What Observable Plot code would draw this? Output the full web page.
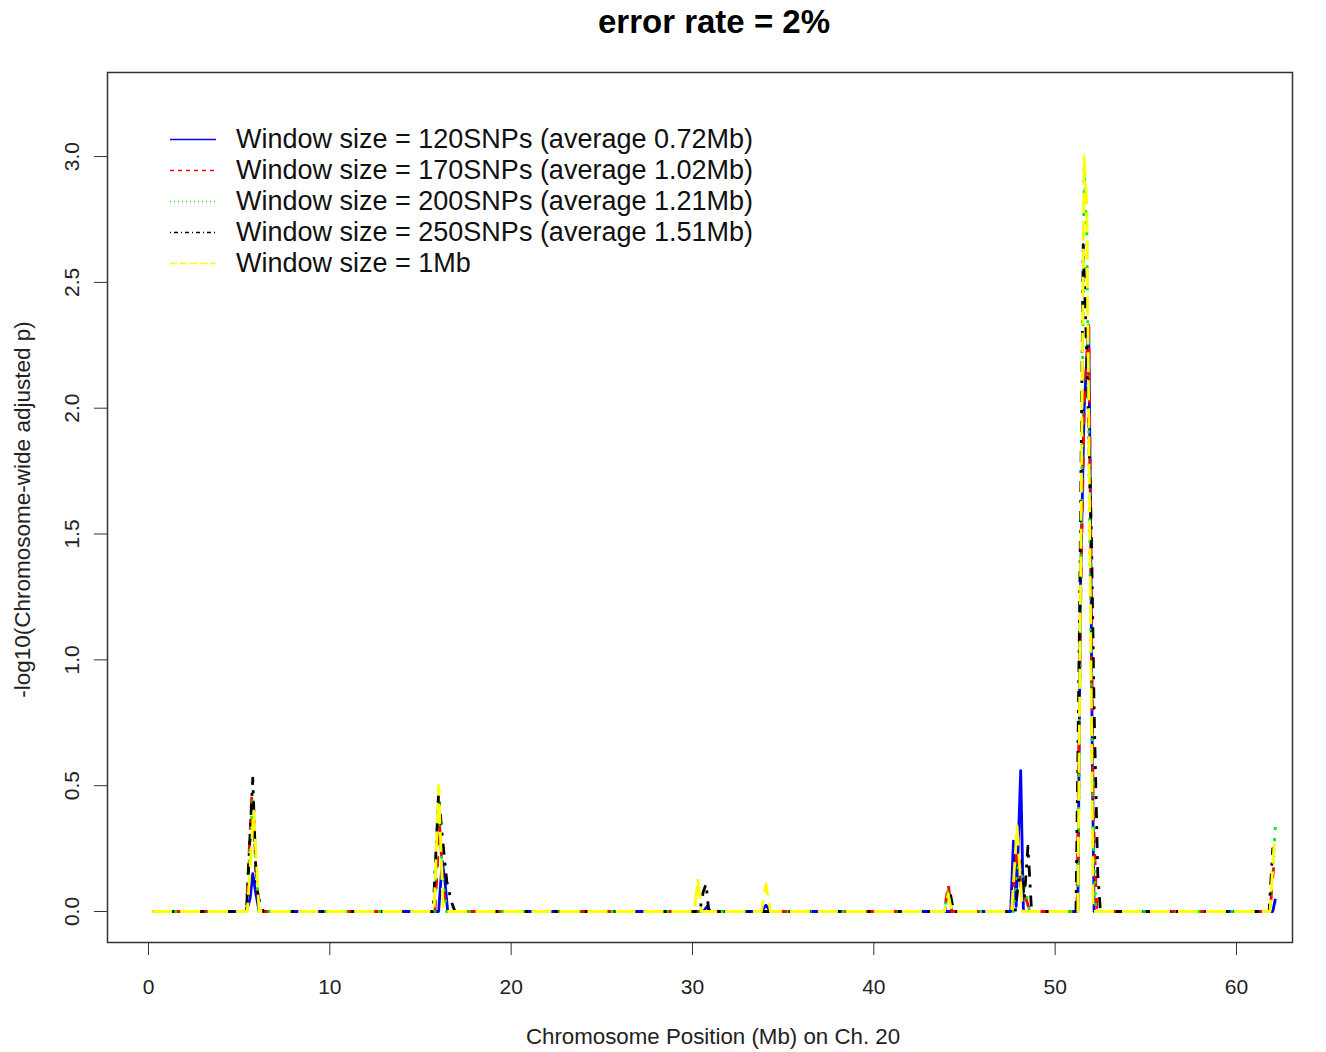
<!DOCTYPE html>
<html><head><meta charset="utf-8">
<script src="https://cdn.jsdelivr.net/npm/d3@7"></script>
<script src="https://cdn.jsdelivr.net/npm/@observablehq/plot@0.6"></script>
<style>
body{margin:0;background:#fff;font-family:"Liberation Sans",Arial,sans-serif;}
#wrap{position:relative;width:1326px;height:1052px;}
#title{height:48px;}
#titleText{position:absolute;left:714px;top:22px;transform:translate(-50%,-50%);font-weight:bold;font-size:33px;color:#000;white-space:nowrap;}
#legend{position:absolute;left:166px;top:124px;}
.row{display:flex;align-items:center;height:31px;}
.row svg{width:52px;height:31px;margin-right:18px;}
.row span{font-size:27px;color:#111;white-space:nowrap;}
</style></head>
<body><div id="wrap"><div id="title"></div><div id="titleText">error rate = 2%</div><div id="chart"></div><div id="legend"></div></div>
<script>
const seriesNames = [
  "Window size = 120SNPs (average 0.72Mb)",
  "Window size = 170SNPs (average 1.02Mb)",
  "Window size = 200SNPs (average 1.21Mb)",
  "Window size = 250SNPs (average 1.51Mb)",
  "Window size = 1Mb"
];
const xTicks = [0, 10, 20, 30, 40, 50, 60];
const yTicks = [0, 0.5, 1.0, 1.5, 2.0, 2.5, 3.0];

const blueX = [0.2, 5.4, 5.6, 5.75, 5.9, 6.1, 16.0, 16.2, 16.35, 16.5, 30.6, 30.8, 31.0, 33.8, 34.05, 34.3, 47.55, 47.7, 47.85, 48.1, 48.25, 51.25, 51.4, 51.6, 51.85, 51.95, 52.05, 52.15, 62.0, 62.15];
const blueY = [0, 0, 0.05, 0.15, 0.08, 0, 0, 0.2, 0.12, 0, 0, 0.02, 0, 0, 0.025, 0, 0, 0.28, 0.02, 0.56, 0, 0, 1.3, 2.0, 2.33, 1.6, 0.6, 0, 0, 0.05];
const redX = [0.2, 5.4, 5.7, 5.85, 6.0, 6.2, 15.8, 16.05, 16.25, 16.45, 43.9, 44.1, 44.3, 47.6, 47.9, 48.1, 48.4, 48.6, 51.2, 51.4, 51.6, 51.85, 51.95, 52.1, 52.3, 61.85, 62.1];
const redY = [0, 0, 0.47, 0.3, 0.08, 0, 0, 0.35, 0.1, 0, 0, 0.11, 0, 0, 0.25, 0.1, 0.05, 0, 0, 1.2, 2.0, 2.35, 1.6, 0.4, 0, 0, 0.22];
const greenX = [0.2, 5.4, 5.75, 5.9, 6.1, 15.8, 16.0, 16.2, 16.45, 43.9, 44.1, 44.3, 47.7, 48.0, 48.3, 48.6, 51.25, 51.45, 51.6, 51.75, 51.95, 52.1, 52.25, 61.85, 62.15];
const greenY = [0, 0, 0.45, 0.2, 0, 0, 0.5, 0.15, 0, 0, 0.09, 0, 0, 0.2, 0.1, 0, 0, 1.5, 2.95, 2.7, 1.2, 0.3, 0, 0, 0.34];
const blackX = [0.2, 5.4, 5.75, 5.95, 6.15, 6.35, 15.7, 16.0, 16.2, 16.45, 16.7, 16.9, 30.4, 30.6, 30.75, 30.9, 43.9, 44.2, 44.4, 47.8, 48.1, 48.3, 48.5, 48.7, 51.15, 51.35, 51.55, 51.75, 52.0, 52.15, 52.35, 52.5, 61.8, 62.0, 62.1];
const blackY = [0, 0, 0.53, 0.1, 0.03, 0, 0, 0.47, 0.3, 0.12, 0.04, 0, 0, 0.08, 0.11, 0, 0, 0.08, 0, 0, 0.2, 0.05, 0.26, 0, 0, 1.2, 2.65, 2.2, 1.5, 0.8, 0.15, 0, 0, 0.25, 0.2];
const yellowX = [0.2, 5.45, 5.8, 6.1, 15.75, 16.0, 16.25, 30.1, 30.3, 30.5, 33.8, 34.05, 34.3, 43.9, 44.1, 44.3, 47.6, 47.9, 48.2, 51.25, 51.6, 51.75, 52.1, 61.85, 62.1];
const yellowY = [0, 0, 0.4, 0, 0, 0.5, 0, 0, 0.13, 0, 0, 0.11, 0, 0, 0.07, 0, 0, 0.34, 0, 0, 3.0, 2.8, 0, 0, 0.3];

const seriesX = [blueX, redX, greenX, blackX, yellowX];
const seriesY = [blueY, redY, greenY, blackY, yellowY];
const colors = ["#0000ff", "#ff0000", "#00ee00", "#000000", "#ffff00"];
const dashes = ["none", "11,11", "3,8", "3,8,11,8", "20,8"];
const legendDashes = ["none", "4,4", "1,3", "1,3,4,3", "7,3"];

const lineMarks = seriesX.map((X, s) => {
  const rows = X.map((x, i) => ({x, y: seriesY[s][i]}));
  return Plot.line(rows, {x: "x", y: "y", stroke: colors[s], strokeWidth: 2.8,
    strokeDasharray: dashes[s], strokeLinejoin: "round", strokeLinecap: "butt"});
});

const chart = Plot.plot({
  width: 1326, height: 1004,
  marginLeft: 107, marginRight: 34, marginTop: 24, marginBottom: 110,
  style: {fontFamily: "'Liberation Sans', Arial, sans-serif", background: "#fff", color: "#222"},
  x: {domain: [-2.261, 63.09]},
  y: {domain: [-0.1232, 3.334]},
  marks: [
    ...lineMarks,
    Plot.frame({stroke: "#333", strokeWidth: 1.5}),
    Plot.axisX(xTicks, {tickSize: 13, tickPadding: 24, fontSize: 21, stroke: "#333", fill: "#222", label: null}),
    Plot.axisY(yTicks, {tickSize: 13, tickFormat: () => "", stroke: "#333", label: null}),
    Plot.text(yTicks, {y: d => d, frameAnchor: "left", dx: -35, rotate: -90, text: d => d.toFixed(1), fontSize: 21, fill: "#222", textAnchor: "middle"}),
    Plot.text(["-log10(Chromosome-wide adjusted p)"], {frameAnchor: "left", dx: -85, dy: 2, rotate: -90, fontSize: 22.5, fill: "#222", textAnchor: "middle"}),
    Plot.text(["Chromosome Position (Mb) on Ch. 20"], {frameAnchor: "bottom", dx: 13, dy: 101, fontSize: 22.3, fill: "#222"})
  ]
});
document.getElementById("chart").appendChild(chart);

const lg = document.getElementById("legend");
seriesNames.forEach((name, i) => {
  const row = document.createElement("div");
  row.className = "row";
  row.innerHTML = `<svg><line x1="4" x2="50" y1="15.5" y2="15.5" stroke="${colors[i]}" stroke-width="1.5" stroke-dasharray="${legendDashes[i]}"/></svg><span>${name}</span>`;
  lg.appendChild(row);
});
</script>
</body></html>
